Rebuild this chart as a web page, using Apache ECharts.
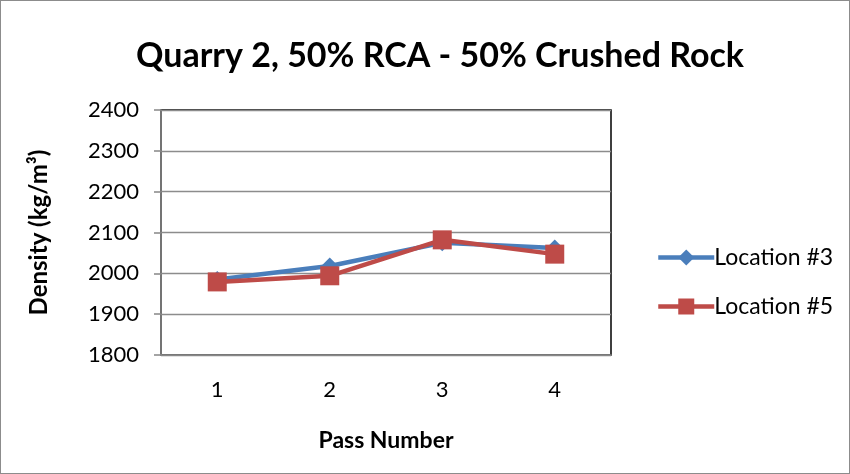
<!DOCTYPE html>
<html>
<head>
<meta charset="utf-8">
<script src="https://cdn.jsdelivr.net/npm/echarts@6/dist/echarts.min.js"></script>
<style>
  html, body { margin: 0; padding: 0; background: #fff; }
  #chart { width: 848px; height: 472px; border: 1px solid #8c8c8c; }
</style>
</head>
<body>
<div id="chart"></div>
<script>
// data
var passes = ['1', '2', '3', '4'];
var location3 = [1985, 2018, 2075, 2062];
var location5 = [1979, 1994, 2082, 2047];
var seriesNames = ['Location #3', 'Location #5'];

var myChart = echarts.init(document.getElementById('chart'));
var font = 'Lato, "Open Sans", sans-serif';

myChart.setOption({
    animation: false,
    title: {
        text: 'Quarry 2, 50% RCA - 50% Crushed Rock',
        left: 434,
        textAlign: 'center',
        top: 33,
        textStyle: { fontFamily: font, fontSize: 34, fontWeight: 'bold', color: '#000' }
    },
    legend: {
        orient: 'vertical',
        left: 650,
        top: 240,
        itemWidth: 56,
        itemHeight: 20,
        itemGap: 26,
        lineStyle: { width: 4.5 },
        textStyle: { fontFamily: font, fontSize: 23, color: '#000', padding: [0, 0, 0, -5] },
        data: seriesNames
    },
    grid: {
        left: 160, right: 238, top: 109, bottom: 118,
        show: true, borderColor: '#000', borderWidth: 1.5
    },
    xAxis: {
        type: 'category',
        data: passes,
        name: 'Pass Number',
        nameLocation: 'middle',
        nameGap: 74,
        nameTextStyle: { fontFamily: font, fontSize: 23, fontWeight: 'bold', color: '#000' },
        axisLine: { lineStyle: { color: '#868686', width: 1.5 } },
        axisTick: { length: 8, lineStyle: { color: '#868686', width: 1.5 } },
        axisLabel: { fontFamily: font, fontSize: 22, color: '#000', margin: 24 }
    },
    yAxis: {
        type: 'value',
        min: 1800, max: 2400, interval: 100,
        name: 'Density (kg/m³)',
        nameLocation: 'middle',
        nameGap: 110,
        nameTextStyle: { fontFamily: font, fontSize: 24, fontWeight: 'bold', color: '#000' },
        axisLine: { show: true, lineStyle: { color: '#868686', width: 1.5 } },
        axisTick: { show: true, length: 7, lineStyle: { color: '#868686', width: 1.5 } },
        axisLabel: { fontFamily: font, fontSize: 22, color: '#000', margin: 22, formatter: function (v) { return String(v); } },
        splitLine: { lineStyle: { color: '#8c8c8c', width: 1.3 } }
    },
    series: [
        {
            name: seriesNames[0],
            type: 'line',
            data: location3,
            symbol: 'diamond',
            symbolSize: 17,
            lineStyle: { color: '#4a7ebb', width: 4.5 },
            itemStyle: { color: '#4a7ebb' }
        },
        {
            name: seriesNames[1],
            type: 'line',
            data: location5,
            symbol: 'rect',
            symbolSize: 19,
            lineStyle: { color: '#be4b48', width: 4.5 },
            itemStyle: { color: '#be4b48' }
        }
    ]
});
</script>
</body>
</html>
